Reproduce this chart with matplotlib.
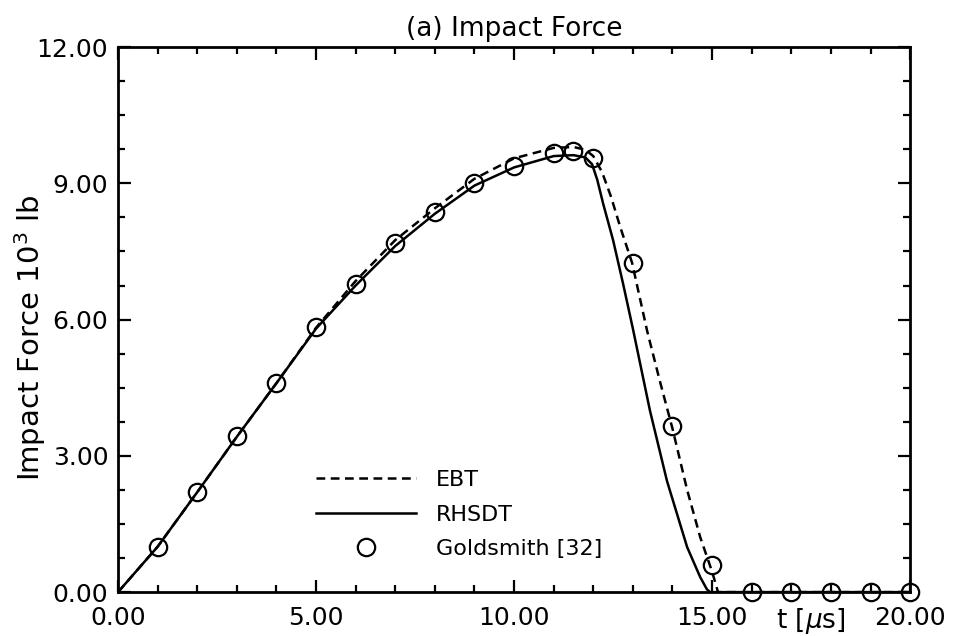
import matplotlib.pyplot as plt
from matplotlib.ticker import MultipleLocator, FormatStrFormatter

# EBT (dashed)
ebt_t = [0, 1, 2, 3, 4, 5, 6, 7, 8, 9, 10, 11, 11.5, 11.8, 12.0, 12.22,
         12.45, 12.68, 12.98, 13.36, 13.68, 14.0, 14.37, 14.7, 15.0, 15.15, 20]
ebt_f = [0, 1.0, 2.2, 3.42, 4.6, 5.82, 6.85, 7.75, 8.45, 9.1, 9.55, 9.78, 9.8,
         9.74, 9.6, 9.25, 8.7, 8.04, 7.25, 5.75, 4.65, 3.6, 2.25, 1.21, 0.45,
         0, 0]

# RHSDT (solid)
rhsdt_t = [0, 1, 2, 3, 4, 5, 6, 7, 8, 9, 10, 11, 11.5, 11.8, 11.97, 12.1,
           12.25, 12.5, 12.75, 13.0, 13.43, 13.86, 14.37, 14.7, 14.87, 14.95,
           20]
rhsdt_f = [0, 1.0, 2.2, 3.42, 4.6, 5.8, 6.75, 7.62, 8.33, 8.95, 9.35, 9.6,
           9.62, 9.57, 9.42, 9.08, 8.55, 7.75, 6.8, 5.8, 4.0, 2.45, 0.99,
           0.33, 0.06, 0, 0]

# Goldsmith [32] experimental points
gold_t = [1, 2, 3, 4, 5, 6, 7, 8, 9, 10, 11, 11.5, 12, 13, 14, 15,
          16, 17, 18, 19, 20]
gold_f = [0.99, 2.2, 3.43, 4.6, 5.84, 6.78, 7.69, 8.37, 9.0, 9.38, 9.67,
          9.71, 9.56, 7.25, 3.66, 0.6, 0, 0, 0, 0, 0]

plt.rcParams['font.family'] = ['DejaVu Sans']

fig = plt.figure(figsize=(9.54, 6.36), dpi=100)
ax = fig.add_axes([0.1237, 0.069, 0.8303, 0.857])

ax.plot(ebt_t, ebt_f, 'k--', lw=1.8, dashes=(3.5, 2.2), label='EBT')
ax.plot(rhsdt_t, rhsdt_f, 'k-', lw=1.8, label='RHSDT')
ax.plot(gold_t, gold_f, 'o', ms=12.5, mfc='none', mec='k', mew=1.6,
        label='Goldsmith [32]', clip_on=False)

ax.set_xlim(0, 20)
ax.set_ylim(0, 12)
ax.xaxis.set_major_locator(MultipleLocator(5))
ax.xaxis.set_minor_locator(MultipleLocator(1))
ax.yaxis.set_major_locator(MultipleLocator(3))
ax.yaxis.set_minor_locator(MultipleLocator(0.75))
ax.xaxis.set_major_formatter(FormatStrFormatter('%.2f'))
ax.yaxis.set_major_formatter(FormatStrFormatter('%.2f'))
ax.tick_params(which='both', direction='in', top=True, right=True,
               labelsize=18, width=1.6)
ax.tick_params(axis='y', pad=7)
ax.tick_params(axis='x', pad=10)
ax.tick_params(which='major', length=9)
ax.tick_params(which='minor', length=5)
for s in ax.spines.values():
    s.set_linewidth(2)

ax.set_title('(a) Impact Force', fontsize=19, pad=8)
ax.set_ylabel('Impact Force 10$^3$ lb', fontsize=21)
ax.yaxis.set_label_coords(-0.088, 0.466)
ax.text(17.5, -0.3, r't [$\mu$s]', fontsize=19, ha='center', va='top')

ax.legend(loc='lower left', bbox_to_anchor=(0.225, 0.024), frameon=False,
          fontsize=16, handlelength=4.5, handletextpad=0.9, labelspacing=0.65)

fig.savefig('out.png', dpi=100)
